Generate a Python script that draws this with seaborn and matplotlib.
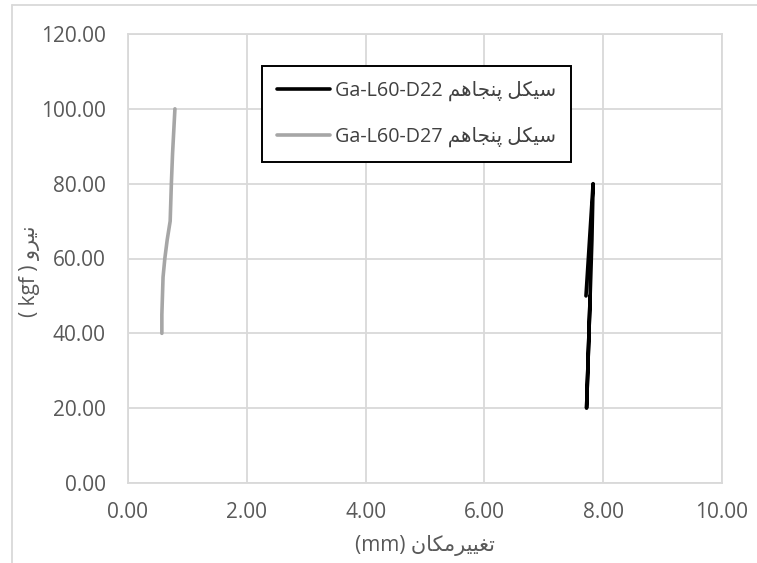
import matplotlib
matplotlib.use("Agg")
import matplotlib.pyplot as plt
import seaborn as sns
import pandas as pd

# Displacement (mm) / force (kgf) readings for the 50th loading cycle
d22_disp = [7.71, 7.83, 7.81, 7.78, 7.75, 7.72, 7.74, 7.76, 7.78]
d22_force = [50, 80, 65, 50, 35, 20, 30, 40, 50]
d27_disp = [0.57, 0.57, 0.58, 0.59, 0.62, 0.66, 0.71, 0.73, 0.75, 0.77, 0.79]
d27_force = [40, 45, 50, 55, 60, 65, 70, 80, 88, 94, 100]

# Persian strings written as Arabic presentation forms in visual (left-to-right) order
cycle_50 = "\uFEE2\uFEEB\uFE8E\uFEA0\uFEE8\uFB58 \uFEDE\uFEDC\uFEF4\uFEB3"
label_d22 = "Ga-L60-D22 " + cycle_50
label_d27 = "Ga-L60-D27 " + cycle_50
x_title = "(mm) \uFEE5\uFE8E\uFEDC\uFEE3\uFEAE\uFEF4\uFEF4\uFED0\uFE97"
y_title = "( kgf ) \uFEED\uFEAE\uFEF4\uFEE7"

x_ticks = [0, 2, 4, 6, 8, 10]
y_ticks = [0, 20, 40, 60, 80, 100, 120]

sns.set_theme(style="white")
plt.rcParams["font.family"] = ["Open Sans", "DejaVu Sans"]

text_col = "#595959"
grid_col = "#d9d9d9"

fig = plt.figure(figsize=(7.57, 5.63), dpi=100)
ax = fig.add_axes([128 / 757, 1 - 483 / 563, (722 - 128) / 757, (483 - 34) / 563])

df22 = pd.DataFrame({"disp": d22_disp, "force": d22_force})
df27 = pd.DataFrame({"disp": d27_disp, "force": d27_force})
sns.lineplot(data=df22, x="disp", y="force", sort=False, estimator=None,
             color="black", lw=2.6, ax=ax, label=label_d22)
sns.lineplot(data=df27, x="disp", y="force", sort=False, estimator=None,
             color="#a6a6a6", lw=2.6, ax=ax, label=label_d27)

ax.set_xlim(0, 10)
ax.set_ylim(0, 120)
ax.set_xticks(x_ticks)
ax.set_yticks(y_ticks)
ax.set_xticklabels([f"{v:.2f}" for v in x_ticks])
ax.set_yticklabels([f"{v:.2f}" for v in y_ticks])
ax.tick_params(axis="both", length=0, labelsize=15, labelcolor=text_col)
ax.tick_params(axis="x", pad=14)
ax.tick_params(axis="y", pad=16)
ax.grid(True, color=grid_col, lw=1.3)
ax.set_axisbelow(True)
for s in ax.spines.values():
    s.set_color(grid_col)
    s.set_linewidth(1.3)

ax.set_xlabel("")
ax.set_ylabel("")
fig.text(425 / 757, 1 - 545 / 563, x_title, ha="center", va="center",
         fontsize=15, color=text_col)
fig.text(30 / 757, 1 - 271 / 563, y_title, ha="center", va="center",
         rotation=90, fontsize=15, color=text_col)

leg = ax.legend(loc="upper left", bbox_to_anchor=(262 / 757, 1 - 66 / 563),
                bbox_transform=fig.transFigure, borderaxespad=0,
                fontsize=14.2, frameon=True, fancybox=False,
                handlelength=2.7, handletextpad=0.25, borderpad=0.75,
                labelspacing=1.3)
leg.get_frame().set_edgecolor("black")
leg.get_frame().set_linewidth(1.4)
leg.get_frame().set_facecolor("white")
leg.get_frame().set_alpha(1)
for t in leg.get_texts():
    t.set_color("#404040")

# outer chart border
fig.add_artist(plt.Line2D([12 / 757, 12 / 757], [0, 1 - 5 / 563],
                          transform=fig.transFigure, color=grid_col, lw=1.3))
fig.add_artist(plt.Line2D([12 / 757, 1], [1 - 5 / 563, 1 - 5 / 563],
                          transform=fig.transFigure, color=grid_col, lw=1.3))

fig.savefig("out.png", dpi=100)
